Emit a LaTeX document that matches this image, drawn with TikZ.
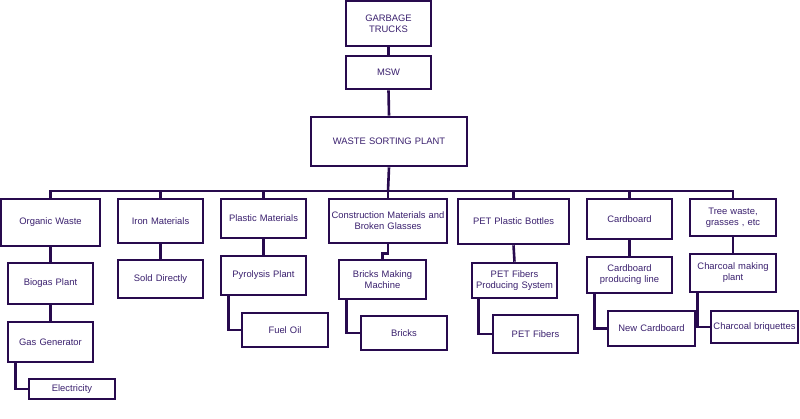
\documentclass[tikz,border=0pt]{standalone}
\usepackage{fontspec}
\setmainfont{Liberation Sans}
\definecolor{bordc}{RGB}{40,10,78}
\definecolor{textc}{RGB}{58,32,110}
\tikzset{
  box/.style={draw=bordc, line width=2.6pt, fill=white, inner sep=1pt, align=center,
    text=textc, font=\fontsize{9.4}{11}\selectfont},
  conn/.style={draw=bordc, line width=2.6pt}
}
\newcommand{\bx}[6]{%
  \node[box, minimum width={#4-#2}, minimum height={#5-#3}, text width={#4-#2-4}]
    (#1) at ({(#2+#4)/2},{(#3+#5)/2}) {#6};}
\begin{document}
\begin{tikzpicture}[x=1pt,y=-1pt]
\useasboundingbox (0,0) rectangle (800,418);
% top chain
\bx{gt}{346}{1}{431}{46}{GARBAGE\\TRUCKS}
\bx{msw}{346}{56}{431}{89}{MSW}
\bx{wsp}{311}{117}{467}{166}{WASTE SORTING PLANT}
% categories
\bx{ow}{1}{199}{100}{246}{Organic Waste}
\bx{im}{118}{199}{203}{243}{Iron Materials}
\bx{pm}{221}{199}{306}{238}{Plastic Materials}
\bx{cm}{329}{199}{447}{243}{Construction Materials and\\Broken Glasses}
\bx{pb}{458}{199}{569}{244}{PET Plastic Bottles}
\bx{cb}{587}{199}{672}{239}{Cardboard}
\bx{tw}{690}{199}{776}{236}{Tree waste,\\grasses , etc}
% second level
\bx{bp}{8}{263}{93}{304}{Biogas Plant}
\bx{sd}{118}{260}{203}{298}{Sold Directly}
\bx{pp}{221}{256}{306}{295}{Pyrolysis Plant}
\bx{bmm}{339}{260}{426}{299}{Bricks Making\\Machine}
\bx{pfps}{472}{263}{557}{298}{PET Fibers\\Producing System}
\bx{cpl}{587}{257}{672}{293}{Cardboard\\producing line}
\bx{cmp}{690}{254}{776}{292}{Charcoal making\\plant}
% third level
\bx{gg}{8}{322}{93}{362}{Gas Generator}
\bx{fo}{242}{313}{328}{347}{Fuel Oil}
\bx{br}{361}{316}{447}{350}{Bricks}
\bx{pf}{493}{315}{578}{353}{PET Fibers}
\bx{nc}{608}{311}{695}{346}{New Cardboard}
\bx{cbq}{711}{311}{798}{343}{Charcoal briquettes}
% fourth level
\bx{el}{29}{379}{115}{399}{Electricity}
% connectors
\coordinate (bus) at (388,191);
\draw[conn] (gt.south) -- (msw.north);
\draw[conn] (msw.south) -- (wsp.north);
\draw[conn] (wsp.south) -- (bus);
\draw[conn] (ow.north) |- (bus) -| (tw.north);
\foreach \n in {im,pm,cm,pb,cb}{\draw[conn] (\n.north) -- (\n.north |- bus);}
\draw[conn] (ow.south) -- (bp.north);
\draw[conn] (bp.south) -- (gg.north);
\draw[conn] (im.south) -- (sd.north);
\draw[conn] (pm.south) -- (pp.north);
\draw[conn] (cm.south) -- ++(0,9) -| (bmm.north);
\draw[conn] (pb.south) -- (pfps.north);
\draw[conn] (cb.south) -- (cpl.north);
\draw[conn] (tw.south) -- (cmp.north);
\draw[conn] ([xshift=9pt]gg.south west) |- (el.west);
\draw[conn] ([xshift=9pt]pp.south west) |- (fo.west);
\draw[conn] ([xshift=9pt]bmm.south west) |- (br.west);
\draw[conn] ([xshift=8pt]pfps.south west) |- (pf.west);
\draw[conn] ([xshift=9pt]cpl.south west) |- (nc.west);
\draw[conn] ([xshift=9pt]cmp.south west) |- (cbq.west);
\end{tikzpicture}
\end{document}
